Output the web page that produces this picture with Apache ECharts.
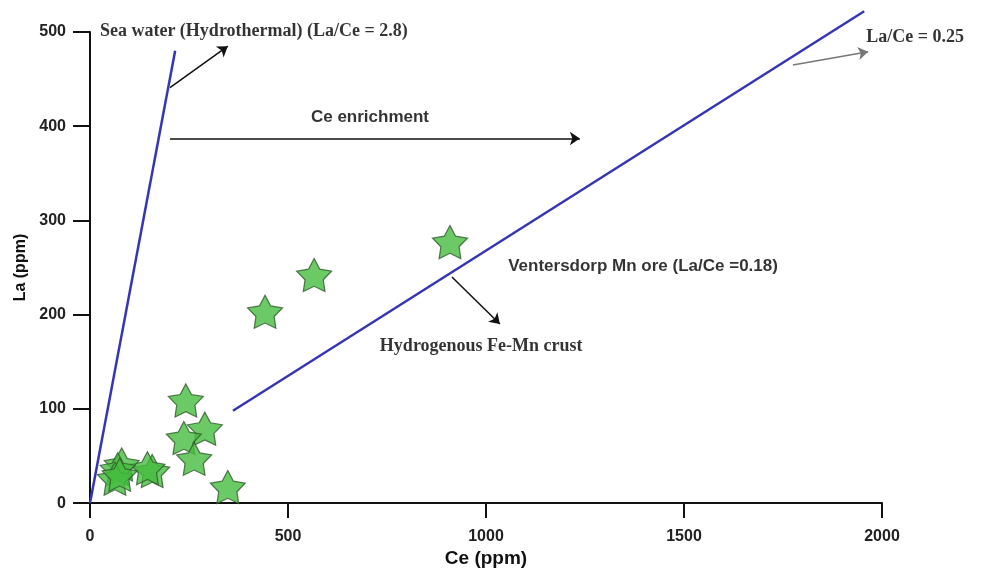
<!DOCTYPE html>
<html><head><meta charset="utf-8">
<script src="https://cdn.jsdelivr.net/npm/echarts@6/dist/echarts.min.js"></script>
<style>html,body{margin:0;padding:0;background:#fff}#c{width:986px;height:573px}</style>
</head><body><div id="c"></div>
<script>
// Samples: [Ce (ppm), La (ppm)]
const samples = [
  [909, 277], [566, 242], [442, 203], [242, 109], [290, 79], [237, 69],
  [263, 47], [348, 17], [157, 34], [145, 37], [80, 41], [70, 36], [63, 26], [75, 30]
];
// Reference lines
const seaWaterLine = [[0, 0], [215, 480]];
const ventersdorpLine = [[361, 98], [1955, 522]];
// Arrows [from, to]
const blackArrows = [
  [[202, 441], [348, 485]],
  [[202, 387], [1237, 387]],
  [[914, 240], [1035, 190]]
];
const greyArrows = [
  [[1775, 465], [1965, 479]]
];
// Annotations [Ce, La, text, family, align]
const notes = [
  [25, 501, 'Sea water (Hydrothermal) (La/Ce = 2.8)', 'serif', 'left'],
  [707, 409, 'Ce enrichment', 'sans', 'center'],
  [1960, 494, 'La/Ce = 0.25', 'serif', 'left'],
  [1056, 251, 'Ventersdorp Mn ore (La/Ce =0.18)', 'sans', 'left'],
  [732, 166, 'Hydrogenous Fe-Mn crust', 'serif', 'left']
];
const xTicks = [0, 500, 1000, 1500, 2000];
const yTicks = [0, 100, 200, 300, 400, 500];

const SANS = '"Liberation Sans", Arial, sans-serif';
const SERIF = '"Liberation Serif", "Times New Roman", serif';
const star = 'path://M50,2 L65.28,30.97 L97.55,36.55 L74.73,60.03 L79.39,92.45 L50,78 L20.61,92.45 L25.27,60.03 L2.45,36.55 L34.72,30.97 Z';

const chart = echarts.init(document.getElementById('c'));
chart.setOption({
  animation: false,
  grid: {left: 90, right: 104, top: 32, bottom: 67},
  xAxis: {
    type: 'value', min: xTicks[0], max: xTicks[xTicks.length-1], interval: 500,
    name: 'Ce (ppm)', nameLocation: 'middle', nameGap: 45,
    nameTextStyle: {fontFamily: SANS, fontWeight: 'bold', fontSize: 19, color: '#111'},
    axisLine: {lineStyle: {color: '#111', width: 2}},
    axisTick: {length: 15, lineStyle: {color: '#111', width: 2}},
    axisLabel: {fontFamily: SANS, fontWeight: 'bold', fontSize: 16, color: '#222', margin: 25,
      formatter: v => String(v)},
    splitLine: {show: false}
  },
  yAxis: {
    type: 'value', min: yTicks[0], max: yTicks[yTicks.length-1], interval: 100,
    name: 'La (ppm)', nameLocation: 'middle', nameGap: 50, nameRotate: 90,
    nameTextStyle: {fontFamily: SANS, fontWeight: 'bold', fontSize: 16, color: '#111'},
    axisLine: {lineStyle: {color: '#111', width: 2}},
    axisTick: {length: 17, lineStyle: {color: '#111', width: 2}},
    axisLabel: {fontFamily: SANS, fontWeight: 'bold', fontSize: 16, color: '#222', margin: 24,
      formatter: v => String(v)},
    splitLine: {show: false}
  },
  series: [
    {type: 'line', data: seaWaterLine, symbol: 'none', clip: false,
     lineStyle: {color: '#3636b4', width: 2.5}, z: 3},
    {type: 'line', data: ventersdorpLine, symbol: 'none', clip: false,
     lineStyle: {color: '#3636b4', width: 2.5}, z: 3},
    {type: 'lines', coordinateSystem: 'cartesian2d', data: blackArrows.map(a => ({coords: a})),
     symbol: ['none', 'arrow'], symbolSize: 10,
     lineStyle: {color: '#111', width: 1.5, opacity: 1}, z: 4},
    {type: 'lines', coordinateSystem: 'cartesian2d', data: greyArrows.map(a => ({coords: a})),
     symbol: ['none', 'arrow'], symbolSize: 10,
     lineStyle: {color: '#777', width: 1.5, opacity: 1}, z: 4},
    {type: 'scatter', data: samples, symbol: star, symbolSize: [35, 33],
     itemStyle: {color: '#46bd40', borderColor: '#2f5a2a', borderWidth: 1.2}, z: 5},
    {type: 'scatter', data: notes.map(n => ({value: [n[0], n[1]],
       label: {show: true, position: 'inside', formatter: n[2], align: n[4], verticalAlign: 'middle',
         fontFamily: n[3] === 'serif' ? SERIF : SANS, fontWeight: 'bold',
         fontSize: n[3] === 'serif' ? 18 : 17, color: '#000'}})),
     symbolSize: 0, clip: false, silent: true, z: 6}
  ]
});
</script></body></html>
